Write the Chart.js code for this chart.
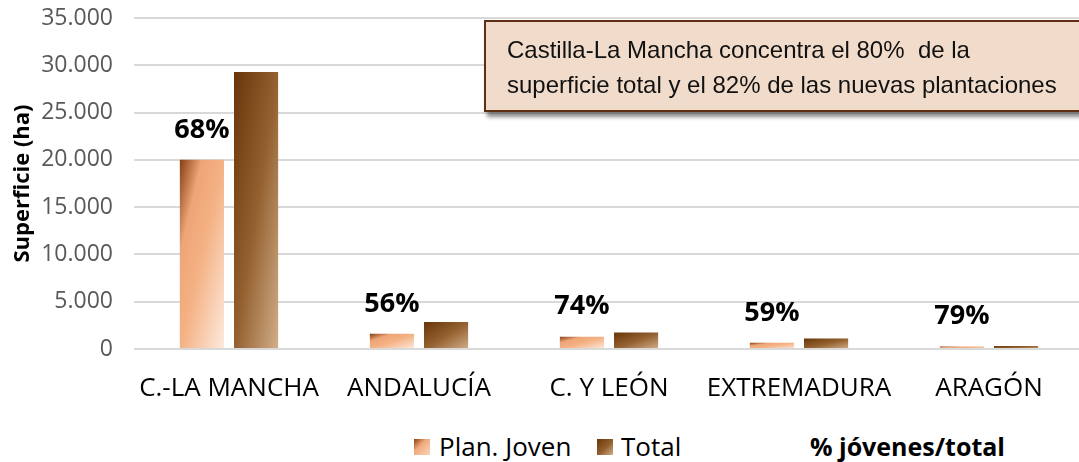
<!DOCTYPE html>
<html>
<head>
<meta charset="utf-8">
<script src="https://cdn.jsdelivr.net/npm/chart.js@4/dist/chart.umd.min.js"></script>
<style>
  html, body { margin: 0; padding: 0; background: #fff; overflow: hidden; width: 1079px; height: 462px; }
  #wrap { position: absolute; left: 0; top: 0; width: 1090px; height: 420px; }
  #note {
    position: absolute; left: 484px; top: 20px; width: 640px;
    background: #f1dccb; border: 2px solid #5e2f12;
    box-shadow: 3px 5px 4px rgba(0,0,0,0.45);
    font-family: 'Liberation Sans', Arial, sans-serif; font-size: 24px; line-height: 35px;
    color: #111; padding: 10px 0 0 21px; box-sizing: border-box; height: 92px; white-space: nowrap;
  }
  .lg { position: absolute; top: 431px; font-family: 'Open Sans', sans-serif; font-size: 26px; line-height: 30px; color: #000; white-space: nowrap; }
  .sw { position: absolute; top: 439px; width: 16px; height: 16px; }
</style>
</head>
<body>
<div id="wrap"><canvas id="c" width="1090" height="420"></canvas></div>
<div id="note">Castilla-La Mancha concentra el 80%&nbsp; de la<br>superficie total y el 82% de las nuevas plantaciones</div>
<div class="sw" style="left:414px; background: linear-gradient(135deg,#843f12 0%,#f0a97b 40%,#f9d6bf 100%);"></div>
<div class="lg" style="left:439px;">Plan. Joven</div>
<div class="sw" style="left:597px; background: linear-gradient(135deg,#683509 0%,#93602f 55%,#d2ae89 100%);"></div>
<div class="lg" style="left:621px;">Total</div>
<div class="lg" style="left:810px; font-weight:700; font-size:25px;">% jóvenes/total</div>
<script>
const categories = ['C.-LA MANCHA', 'ANDALUCÍA', 'C. Y LEÓN', 'EXTREMADURA', 'ARAGÓN'];
const planJoven = [20000, 1600, 1300, 650, 260];
const total = [29300, 2850, 1750, 1100, 330];
const pctJovenes = [68, 56, 74, 59, 79];
const seriesNames = ['Plan. Joven', 'Total', '% jóvenes/total'];
const yMin = 0, yMax = 35000, yStep = 5000;

const CAT_PCT = 0.57, BAR_PCT = 0.815;
const planStops = [[0, '#843f12'], [0.25, '#eea578'], [0.5, '#f4b183'], [1, '#fdeade']];
const totalStops = [[0, '#683509'], [0.5, '#93602f'], [1, '#d2ae89']];

function fmt(v) {
  return String(v).replace(/\B(?=(\d{3})+(?!\d))/g, '.');
}

function barGradient(context, stops) {
  const chart = context.chart;
  const xs = chart.scales.x, ys = chart.scales.y;
  if (!xs || !ys || !chart.chartArea) return stops[1][1];
  const n = categories.length;
  const catW = xs.width / n;
  const slot = catW * CAT_PCT / 2;
  const w = slot * BAR_PCT;
  const cx = xs.getPixelForValue(context.dataIndex) + (context.datasetIndex - 0.5) * slot;
  const x0 = cx - w / 2;
  const v = context.raw;
  const top = ys.getPixelForValue(v);
  const bot = ys.getPixelForValue(0);
  const h = Math.max(1, bot - top);
  const t = 2 * w * h / (w * w + h * h);
  const g = chart.ctx.createLinearGradient(x0, top, x0 + t * h, top + t * w);
  stops.forEach(s => g.addColorStop(s[0], s[1]));
  return g;
}

const pctPlugin = {
  id: 'pctLabels',
  afterDatasetsDraw(chart) {
    const meta = chart.getDatasetMeta(0);
    const ctx = chart.ctx;
    ctx.save();
    ctx.font = "700 27px 'Open Sans', sans-serif";
    ctx.fillStyle = '#000';
    ctx.textAlign = 'center';
    ctx.textBaseline = 'middle';
    meta.data.forEach((el, i) => {
      ctx.fillText(pctJovenes[i] + '%', el.x, el.y - 30);
    });
    ctx.restore();
  }
};

new Chart(document.getElementById('c'), {
  type: 'bar',
  data: {
    labels: categories,
    datasets: [
      { label: seriesNames[0], data: planJoven, backgroundColor: c => barGradient(c, planStops) },
      { label: seriesNames[1], data: total, backgroundColor: c => barGradient(c, totalStops) }
    ]
  },
  options: {
    responsive: false,
    animation: false,
    events: [],
    datasets: { bar: { categoryPercentage: CAT_PCT, barPercentage: BAR_PCT } },
    layout: { padding: { left: 0, right: 6, top: 18, bottom: 0 } },
    plugins: { legend: { display: false }, tooltip: { enabled: false } },
    scales: {
      x: {
        grid: { display: false },
        border: { display: false },
        ticks: { color: '#000', font: { family: "'Open Sans', sans-serif", size: 26 }, padding: 16, maxRotation: 0, autoSkip: false },
        afterFit(s) { s.height = 71; }
      },
      y: {
        min: yMin, max: yMax,
        grid: { color: '#d9d9d9', lineWidth: 2, drawTicks: false },
        border: { display: false },
        ticks: { stepSize: yStep, color: '#595959', font: { family: "'Open Sans', sans-serif", size: 23 }, padding: 21, callback: v => fmt(v) },
        title: { display: true, text: 'Superficie (ha)', color: '#000', font: { family: "'Open Sans', sans-serif", size: 22, weight: '700' }, padding: { top: 10, bottom: 0 } },
        afterFit(s) { s.width = 134; s.paddingTop = 0; s.paddingBottom = 0; }
      }
    }
  },
  plugins: [pctPlugin]
});
</script>
</body>
</html>
